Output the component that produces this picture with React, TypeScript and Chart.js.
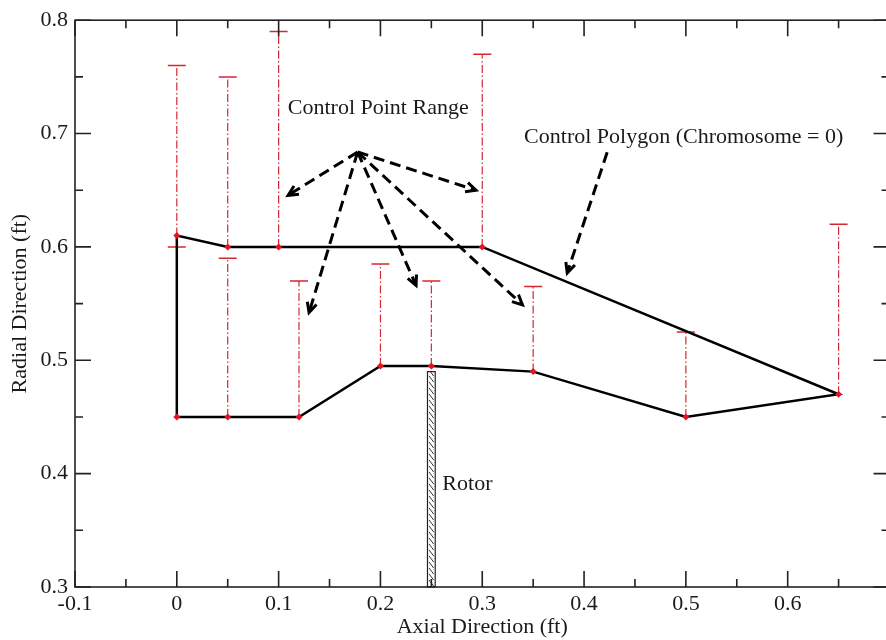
import { useEffect, useRef } from 'react';
import { Chart, registerables } from 'chart.js';

Chart.register(...registerables);

// ---- data ----
const upperX = [0, 0.05, 0.1, 0.3];
const upperY = [0.61, 0.6, 0.6, 0.6];
const upperMax = [0.76, 0.75, 0.79, 0.77];

const lowerX = [0, 0.05, 0.12, 0.2, 0.25, 0.35, 0.5, 0.65];
const lowerY = [0.45, 0.45, 0.45, 0.495, 0.495, 0.49, 0.45, 0.47];
const lowerMax = [0.6, 0.59, 0.57, 0.585, 0.57, 0.565, 0.525, 0.62];

const xTicks = [-0.1, 0, 0.1, 0.2, 0.3, 0.4, 0.5, 0.6];
const xTickLabels = ['-0.1', '0', '0.1', '0.2', '0.3', '0.4', '0.5', '0.6'];
const yTicks = [0.3, 0.4, 0.5, 0.6, 0.7, 0.8];
const yTickLabels = ['0.3', '0.4', '0.5', '0.6', '0.7', '0.8'];

const rotorX = 0.25;
const rotorHalfWidth = 0.0038;
const rotorTop = 0.49;

const rangeArrowOrigin = [0.1776, 0.6837];
const rangeArrowTipX = [0.1093, 0.2938, 0.1299, 0.235, 0.3395];
const rangeArrowTipY = [0.6455, 0.65, 0.5421, 0.566, 0.5489];
const polygonArrowFrom = [0.4227, 0.6835];
const polygonArrowTo = [0.3835, 0.5771];

const noteTexts = ['Control Point Range', 'Control Polygon (Chromosome = 0)', 'Rotor'];
const noteX = [0.109, 0.3411, 0.2608];
const noteY = [0.7222, 0.6969, 0.3909];

const FONT = "'Liberation Serif', 'Times New Roman', serif";
const TEXT = '#1a1a1a';
const RED = 'rgb(214, 38, 48)';
const MARK = 'rgb(230, 20, 35)';

const overlay = {
  id: 'overlay',
  afterDatasetsDraw(chart: any) {
    const { ctx, scales } = chart;
    const xs = scales.x;
    const ys = scales.y;
    const px = (v: number) => xs.getPixelForValue(v);
    const py = (v: number) => ys.getPixelForValue(v);
    ctx.save();

    // rotor
    const rl = px(rotorX - rotorHalfWidth);
    const rr = px(rotorX + rotorHalfWidth);
    const rt = py(rotorTop);
    const rb = py(ys.min);
    ctx.fillStyle = '#fff';
    ctx.fillRect(rl, rt, rr - rl, rb - rt);
    ctx.save();
    ctx.beginPath();
    ctx.rect(rl, rt, rr - rl, rb - rt);
    ctx.clip();
    ctx.strokeStyle = '#333';
    ctx.lineWidth = 1;
    const w = rr - rl;
    for (let y = rt - w; y < rb + w; y += 6) {
      ctx.beginPath();
      ctx.moveTo(rl + 1.5, y);
      ctx.lineTo(rr - 1.5, y + w * 0.8);
      ctx.stroke();
    }
    ctx.restore();
    ctx.strokeStyle = '#222';
    ctx.lineWidth = 1.2;
    ctx.strokeRect(rl, rt, rr - rl, rb - rt);

    // arrows
    const arrow = (x0: number, y0: number, x1: number, y1: number) => {
      const a = px(x0), b = py(y0), c = px(x1), d = py(y1);
      ctx.strokeStyle = '#000';
      ctx.lineWidth = 3;
      ctx.setLineDash([11, 6]);
      ctx.beginPath();
      ctx.moveTo(a, b);
      ctx.lineTo(c, d);
      ctx.stroke();
      ctx.setLineDash([]);
      const ang = Math.atan2(d - b, c - a);
      const L = 11;
      const sp = 0.45;
      ctx.beginPath();
      ctx.moveTo(c - L * Math.cos(ang - sp), d - L * Math.sin(ang - sp));
      ctx.lineTo(c, d);
      ctx.lineTo(c - L * Math.cos(ang + sp), d - L * Math.sin(ang + sp));
      ctx.stroke();
    };
    for (let i = 0; i < rangeArrowTipX.length; i++) {
      arrow(rangeArrowOrigin[0], rangeArrowOrigin[1], rangeArrowTipX[i], rangeArrowTipY[i]);
    }
    arrow(polygonArrowFrom[0], polygonArrowFrom[1], polygonArrowTo[0], polygonArrowTo[1]);

    // notes
    ctx.fillStyle = TEXT;
    ctx.font = `22px ${FONT}`;
    ctx.textAlign = 'left';
    ctx.textBaseline = 'middle';
    for (let i = 0; i < noteTexts.length; i++) {
      ctx.fillText(noteTexts[i], px(noteX[i]), py(noteY[i]));
    }
    ctx.restore();
  },
  afterDraw(chart: any) {
    const { ctx, chartArea, scales } = chart;
    const { left, right, top, bottom } = chartArea;
    ctx.save();
    ctx.strokeStyle = '#222';
    ctx.lineWidth = 1.6;
    ctx.strokeRect(left, top, right - left, bottom - top);
    const MAJ = 16, MIN = 8;
    ctx.beginPath();
    const xMajor = [...xTicks, scales.x.max];
    xMajor.forEach((v) => {
      const x = scales.x.getPixelForValue(v);
      ctx.moveTo(x, bottom); ctx.lineTo(x, bottom - MAJ);
      ctx.moveTo(x, top); ctx.lineTo(x, top + MAJ);
    });
    for (let i = 0; i < xMajor.length - 1; i++) {
      const x = scales.x.getPixelForValue((xMajor[i] + xMajor[i + 1]) / 2);
      ctx.moveTo(x, bottom); ctx.lineTo(x, bottom - MIN);
      ctx.moveTo(x, top); ctx.lineTo(x, top + MIN);
    }
    yTicks.forEach((v) => {
      const y = scales.y.getPixelForValue(v);
      ctx.moveTo(left, y); ctx.lineTo(left + MAJ, y);
      ctx.moveTo(right, y); ctx.lineTo(right - MAJ, y);
    });
    for (let i = 0; i < yTicks.length - 1; i++) {
      const y = scales.y.getPixelForValue((yTicks[i] + yTicks[i + 1]) / 2);
      ctx.moveTo(left, y); ctx.lineTo(left + MIN, y);
      ctx.moveTo(right, y); ctx.lineTo(right - MIN, y);
    }
    ctx.stroke();
    ctx.restore();
  },
};

export default function App() {
  const ref = useRef<HTMLCanvasElement | null>(null);

  useEffect(() => {
    if (!ref.current) return;

    const polygon = [
      ...lowerX.map((x, i) => ({ x, y: lowerY[i] })),
      ...upperX.map((x, i) => ({ x, y: upperY[i] })).reverse(),
      { x: lowerX[0], y: lowerY[0] },
    ];
    const ranges: { x: number; y: number }[] = [];
    const caps: { x: number; y: number }[] = [];
    const markers: { x: number; y: number }[] = [];
    upperX.forEach((x, i) => {
      ranges.push({ x, y: upperY[i] }, { x, y: upperMax[i] }, { x: NaN, y: NaN });
      caps.push({ x, y: upperMax[i] });
      markers.push({ x, y: upperY[i] });
    });
    lowerX.forEach((x, i) => {
      ranges.push({ x, y: lowerY[i] }, { x, y: lowerMax[i] }, { x: NaN, y: NaN });
      caps.push({ x, y: lowerMax[i] });
      markers.push({ x, y: lowerY[i] });
    });

    const tickFont = { family: FONT, size: 22 };

    const chart = new Chart(ref.current, {
      type: 'scatter',
      data: {
        datasets: [
          {
            label: 'Control point range',
            data: ranges,
            showLine: true,
            spanGaps: false,
            borderColor: RED,
            borderWidth: 1.2,
            borderDash: [8, 2.5, 1.5, 2.5],
            pointRadius: 0,
            order: 4,
          },
          {
            label: 'Range cap',
            data: caps,
            showLine: false,
            pointStyle: 'line',
            pointRadius: 9,
            borderColor: RED,
            borderWidth: 1.5,
            order: 3,
          },
          {
            label: 'Control polygon',
            data: polygon,
            showLine: true,
            borderColor: '#000',
            borderWidth: 2.5,
            pointRadius: 0,
            tension: 0,
            order: 2,
          },
          {
            label: 'Control points',
            data: markers,
            showLine: false,
            pointStyle: 'rectRot',
            pointRadius: 3.5,
            backgroundColor: MARK,
            borderColor: MARK,
            borderWidth: 0,
            order: 1,
          },
        ],
      },
      options: {
        responsive: false,
        animation: false,
        events: [],
        layout: { padding: { top: 15, right: 9, left: 0, bottom: 0 } },
        plugins: { legend: { display: false }, tooltip: { enabled: false } },
        scales: {
          x: {
            type: 'linear',
            min: -0.1,
            max: 0.7,
            grid: { display: false, drawTicks: false },
            border: { display: false },
            afterBuildTicks: (s: any) => {
              s.ticks = xTicks.map((v) => ({ value: v }));
            },
            ticks: {
              autoSkip: false,
              maxRotation: 0,
              padding: 4,
              color: TEXT,
              font: tickFont,
              callback: (_v: any, i: number) => xTickLabels[i],
            },
            title: {
              display: true,
              text: 'Axial Direction (ft)',
              color: TEXT,
              font: tickFont,
              padding: { top: 0, bottom: 0 },
            },
            afterFit: (s: any) => {
              s.height = 53;
            },
          },
          y: {
            type: 'linear',
            min: 0.3,
            max: 0.8,
            grid: { display: false, drawTicks: false },
            border: { display: false },
            afterBuildTicks: (s: any) => {
              s.ticks = yTicks.map((v) => ({ value: v }));
            },
            ticks: {
              autoSkip: false,
              padding: 7,
              color: TEXT,
              font: tickFont,
              callback: (_v: any, i: number) => yTickLabels[i],
            },
            title: {
              display: true,
              text: 'Radial Direction (ft)',
              color: TEXT,
              font: tickFont,
              padding: { top: 7, bottom: 0 },
            },
            afterFit: (s: any) => {
              s.width = 75;
            },
          },
        },
      },
      plugins: [overlay],
    } as any);

    return () => chart.destroy();
  }, []);

  return (
    <div
      style={{
        position: 'fixed',
        left: 0,
        top: 0,
        width: 886,
        height: 640,
        overflow: 'hidden',
        background: '#fff',
      }}
    >
      <canvas ref={ref} width={900} height={640} style={{ display: 'block' }} />
    </div>
  );
}
